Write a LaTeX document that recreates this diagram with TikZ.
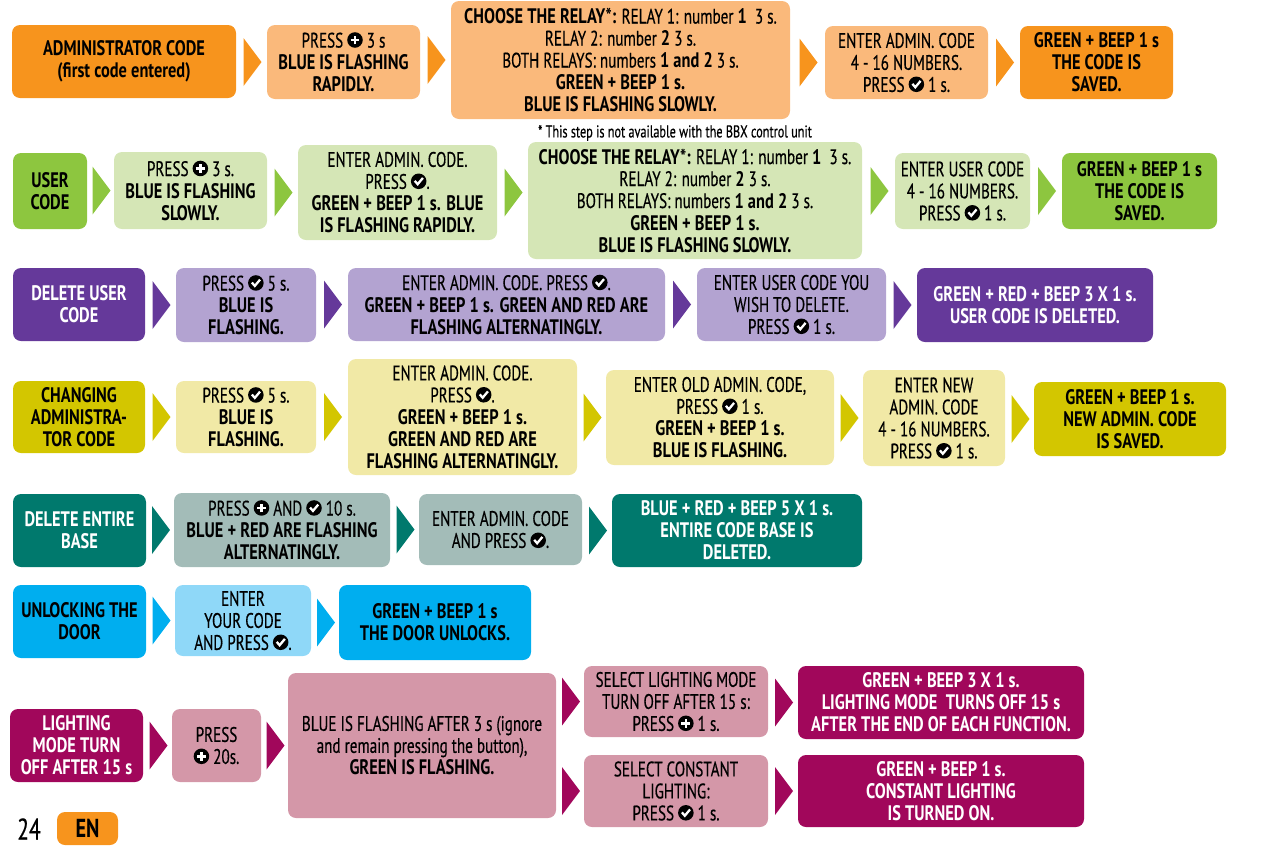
\documentclass[tikz,border=0pt]{standalone}
\usepackage{fontspec}
\setmainfont{PT Sans}[UprightFeatures={FakeStretch=0.72, FakeBold=0.4}, BoldFeatures={FakeStretch=0.78}]
\usepackage{tikz}
\usetikzlibrary{shapes.geometric}

\definecolor{orD}{HTML}{F7941D}
\definecolor{orL}{HTML}{FAB97B}
\definecolor{grD}{HTML}{8DC63F}
\definecolor{grL}{HTML}{D5E6B6}
\definecolor{puD}{HTML}{65399A}
\definecolor{puL}{HTML}{B3A3D1}
\definecolor{yeD}{HTML}{D3C600}
\definecolor{yeL}{HTML}{F1E9A6}
\definecolor{teD}{HTML}{00796D}
\definecolor{teL}{HTML}{A3BCB8}
\definecolor{blD}{HTML}{00AEEF}
\definecolor{blL}{HTML}{8FD8F8}
\definecolor{maD}{HTML}{A1075B}
\definecolor{maL}{HTML}{D497A8}

\newcommand{\fsz}{\fontsize{21}{22}\selectfont}
\newcommand{\icplus}{\tikz[baseline=0pt, sharp corners]{\fill[black] (0,0.36em) circle (0.37em);
  \draw[white,line width=0.12em] (-0.21em,0.36em) -- (0.21em,0.36em) (0,0.15em) -- (0,0.57em);}}
\newcommand{\icchk}{\tikz[baseline=0pt, sharp corners]{\fill[black] (0,0.36em) circle (0.37em);
  \draw[white,line width=0.11em] (-0.19em,0.38em) -- (-0.05em,0.22em) -- (0.2em,0.52em);}}

\tikzset{
  box/.style={rounded corners=8pt, fill=#1, align=center, inner sep=0pt, font=\fsz},
  hd/.style={box=#1, font=\fsz\bfseries},
  tri/.style={isosceles triangle, isosceles triangle stretches, fill=#1,
    inner sep=0pt, minimum width=48, minimum height=18}
}

\begin{document}
\begin{tikzpicture}[x=1pt, y=-1pt]
\useasboundingbox (0,0) rectangle (1281,860);

% Administrator code
\node[hd=orD, minimum width=224, minimum height=73] (a1) at (124,61.5) {ADMINISTRATOR CODE\\(first code entered)};
\node[box=orL, minimum width=153, minimum height=74] (a2) at (343.5,62) {PRESS \icplus\ 3 s\\\textbf{BLUE IS FLASHING}\\\textbf{RAPIDLY.}};
\node[box=orL, minimum width=339, minimum height=118] (a3) at (620.5,60) {\textbf{CHOOSE THE RELAY*:} RELAY 1: number \textbf{1}~~3 s.\\RELAY 2: number \textbf{2} 3 s.\\BOTH RELAYS: numbers \textbf{1 and 2} 3 s.\\\textbf{GREEN + BEEP 1 s.}\\\textbf{BLUE IS FLASHING SLOWLY.}};
\node[box=orL, minimum width=163, minimum height=73] (a4) at (906.5,62.5) {ENTER ADMIN. CODE\\4 - 16 NUMBERS.\\PRESS \icchk\ 1 s.};
\node[hd=orD, minimum width=153, minimum height=73] (a5) at (1096.5,62.5) {GREEN + BEEP 1 s\\THE CODE IS\\SAVED.};
\node[font=\fontsize{17}{18}\selectfont] (note) at (675,133) {* This step is not available with the BBX control unit};
\path (a1.east |- a2) -- node[tri=orD] {} (a2.west);
\path (a2.east |- a3) -- node[tri=orD] {} (a3.west);
\path (a3.east |- a4) -- node[tri=orD] {} (a4.west);
\path (a4.east |- a5) -- node[tri=orD] {} (a5.west);

% User code
\node[hd=grD, minimum width=74, minimum height=76] (b1) at (50,191) {USER\\CODE};
\node[box=grL, minimum width=153, minimum height=77] (b2) at (190.5,190.5) {PRESS \icplus\ 3 s.\\\textbf{BLUE IS FLASHING}\\\textbf{SLOWLY.}};
\node[box=grL, minimum width=199, minimum height=95] (b3) at (397.5,192.5) {ENTER ADMIN. CODE.\\PRESS \icchk.\\\textbf{GREEN + BEEP 1 s. BLUE}\\\textbf{IS FLASHING RAPIDLY.}};
\node[box=grL, minimum width=334, minimum height=117] (b4) at (695,200.5) {\textbf{CHOOSE THE RELAY*:} RELAY 1: number \textbf{1}~~3 s.\\RELAY 2: number \textbf{2} 3 s.\\BOTH RELAYS: numbers \textbf{1 and 2} 3 s.\\\textbf{GREEN + BEEP 1 s.}\\\textbf{BLUE IS FLASHING SLOWLY.}};
\node[box=grL, minimum width=135, minimum height=76] (b5) at (962.5,191) {ENTER USER CODE\\4 - 16 NUMBERS.\\PRESS \icchk\ 1 s.};
\node[hd=grD, minimum width=155, minimum height=76] (b6) at (1139.5,191) {GREEN + BEEP 1 s\\THE CODE IS\\SAVED.};
\path (b1.east |- b2) -- node[tri=grD] {} (b2.west);
\path (b2.east |- b3) -- node[tri=grD] {} (b3.west);
\path (b3.east) -- node[tri=grD] {} (b3.east -| b4.west);
\path (b4.east |- b5) -- node[tri=grD] {} (b5.west);
\path (b5.east |- b6) -- node[tri=grD] {} (b6.west);

% Delete user code
\node[hd=puD, text=white, minimum width=132, minimum height=73] (c1) at (79,304.5) {DELETE USER\\CODE};
\node[box=puL, minimum width=140, minimum height=74] (c2) at (246,305) {PRESS \icchk\ 5 s.\\\textbf{BLUE IS}\\\textbf{FLASHING.}};
\node[box=puL, minimum width=317, minimum height=73] (c3) at (506.5,304.5) {ENTER ADMIN. CODE. PRESS \icchk.\\\textbf{GREEN + BEEP 1 s. GREEN AND RED ARE}\\\textbf{FLASHING ALTERNATINGLY.}};
\node[box=puL, minimum width=189, minimum height=73] (c4) at (791.5,304.5) {ENTER USER CODE YOU\\WISH TO DELETE.\\PRESS \icchk\ 1 s.};
\node[hd=puD, text=white, minimum width=236, minimum height=74] (c5) at (1035,305) {GREEN + RED + BEEP 3 X 1 s.\\USER CODE IS DELETED.};
\path (c1.east |- c2) -- node[tri=puD] {} (c2.west);
\path (c2.east |- c3) -- node[tri=puD] {} (c3.west);
\path (c3.east |- c4) -- node[tri=puD] {} (c4.west);
\path (c4.east |- c5) -- node[tri=puD] {} (c5.west);

% Changing administrator code
\node[hd=yeD, minimum width=132, minimum height=72] (d1) at (79,417) {CHANGING\\ADMINISTRA-\\TOR CODE};
\node[box=yeL, minimum width=140, minimum height=72] (d2) at (246,417) {PRESS \icchk\ 5 s.\\\textbf{BLUE IS}\\\textbf{FLASHING.}};
\node[box=yeL, minimum width=229, minimum height=116] (d3) at (462.5,417) {ENTER ADMIN. CODE.\\PRESS \icchk.\\\textbf{GREEN + BEEP 1 s.}\\\textbf{GREEN AND RED ARE}\\\textbf{FLASHING ALTERNATINGLY.}};
\node[box=yeL, minimum width=228, minimum height=95] (d4) at (720,417.5) {ENTER OLD ADMIN. CODE,\\PRESS \icchk\ 1 s.\\\textbf{GREEN + BEEP 1 s.}\\\textbf{BLUE IS FLASHING.}};
\node[box=yeL, minimum width=142, minimum height=96] (d5) at (934,418) {ENTER NEW\\ADMIN. CODE\\4 - 16 NUMBERS.\\PRESS \icchk\ 1 s.};
\node[hd=yeD, minimum width=192, minimum height=74] (d6) at (1130,419) {GREEN + BEEP 1 s.\\NEW ADMIN. CODE\\IS SAVED.};
\path (d1.east |- d2) -- node[tri=yeD] {} (d2.west);
\path (d2.east |- d3) -- node[tri=yeD] {} (d3.west);
\path (d3.east |- d4) -- node[tri=yeD] {} (d4.west);
\path (d4.east |- d5) -- node[tri=yeD] {} (d5.west);
\path (d5.east |- d6) -- node[tri=yeD] {} (d6.west);

% Delete entire base
\node[hd=teD, text=white, minimum width=133, minimum height=73] (e1) at (79.5,530.5) {DELETE ENTIRE\\BASE};
\node[box=teL, minimum width=216, minimum height=74] (e2) at (282,530) {PRESS \icplus\ AND \icchk\ 10 s.\\\textbf{BLUE + RED ARE FLASHING}\\\textbf{ALTERNATINGLY.}};
\node[box=teL, minimum width=163, minimum height=71] (e3) at (500.5,529.5) {ENTER ADMIN. CODE\\AND PRESS \icchk.};
\node[hd=teD, text=white, minimum width=250, minimum height=73] (e4) at (737,530.5) {BLUE + RED + BEEP 5 X 1 s.\\ENTIRE CODE BASE IS\\DELETED.};
\path (e1.east |- e2) -- node[tri=teD] {} (e2.west);
\path (e2.east |- e3) -- node[tri=teD] {} (e3.west);
\path (e3.east |- e4) -- node[tri=teD] {} (e4.west);

% Unlocking the door
\node[hd=blD, minimum width=133, minimum height=73] (f1) at (79.5,621.5) {UNLOCKING THE\\DOOR};
\node[box=blL, minimum width=136, minimum height=71] (f2) at (243,620.5) {ENTER\\YOUR CODE\\AND PRESS \icchk.};
\node[hd=blD, minimum width=192, minimum height=75] (f3) at (435,622.5) {GREEN + BEEP 1 s\\THE DOOR UNLOCKS.};
\path (f1.east |- f2) -- node[tri=blD] {} (f2.west);
\path (f2.east |- f3) -- node[tri=blD] {} (f3.west);

% Lighting mode
\node[hd=maD, text=white, minimum width=133, minimum height=73] (g1) at (76.5,745.5) {LIGHTING\\MODE TURN\\OFF AFTER 15 s};
\node[box=maL, minimum width=89, minimum height=73] (g2) at (216.5,745.5) {PRESS\\\icplus\ 20s.};
\node[box=maL, minimum width=268, minimum height=145] (g3) at (422,745.5) {BLUE IS FLASHING AFTER 3 s (ignore\\and remain pressing the button),\\\textbf{GREEN IS FLASHING.}};
\node[box=maL, minimum width=184, minimum height=71] (g4) at (676,701.5) {SELECT LIGHTING MODE\\TURN OFF AFTER 15 s:\\PRESS \icplus\ 1 s.};
\node[box=maL, minimum width=184, minimum height=72] (g5) at (676,791) {SELECT CONSTANT\\LIGHTING:\\PRESS \icchk\ 1 s.};
\node[hd=maD, text=white, minimum width=286, minimum height=73] (g6) at (941,702.5) {GREEN + BEEP 3 X 1 s.\\LIGHTING MODE~~TURNS OFF 15 s\\AFTER THE END OF EACH FUNCTION.};
\node[hd=maD, text=white, minimum width=286, minimum height=72] (g7) at (941,791) {GREEN + BEEP 1 s.\\CONSTANT LIGHTING\\IS TURNED ON.};
\path (g1.east |- g2) -- node[tri=maD] {} (g2.west);
\path (g2.east |- g3) -- node[tri=maD] {} (g3.west);
\path (g3.east |- g4) -- node[tri=maD] {} (g4.west);
\path (g3.east |- g5) -- node[tri=maD] {} (g5.west);
\path (g4.east |- g6) -- node[tri=maD] {} (g6.west);
\path (g5.east |- g7) -- node[tri=maD] {} (g7.west);

% Page number
\node[font=\fontsize{30}{32}\selectfont] (page) at (29,829) {24};
\node[hd=orD, minimum width=61, minimum height=33, font=\fontsize{26}{28}\selectfont\bfseries] (lang) at (87.5,828.5) {EN};
\end{tikzpicture}
\end{document}
